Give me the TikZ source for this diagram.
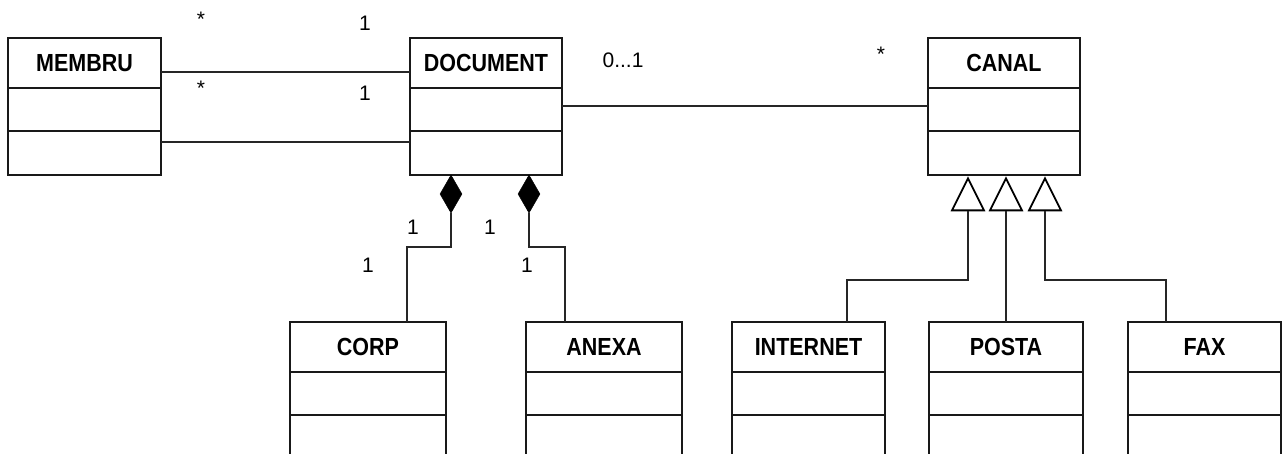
\documentclass[tikz,border=0pt]{standalone}
\usepackage{fontspec}
\setmainfont{Liberation Sans}
\usetikzlibrary{shapes.geometric,calc}
\newcommand{\cname}[1]{\scalebox{1}[1.15]{\bfseries #1}}
\tikzset{
  boxline/.style={line width=2pt, draw=black!90},
  classbox/.style={boxline, rectangle, inner sep=0pt, outer sep=0pt, fill=white},
  classname/.style={font=\fontsize{21.5}{24}\selectfont, inner sep=0pt},
  mult/.style={font=\fontsize{21}{24}\selectfont, inner sep=0pt},
  conn/.style={line width=2pt, draw=black!85},
  compo/.style={diamond, fill=black, draw=black, line width=0.5pt, inner sep=0pt, minimum width=22pt, minimum height=38pt},
  gen/.style={isosceles triangle, isosceles triangle stretches, shape border rotate=90, draw=black, fill=white, line width=1.8pt, inner sep=0pt, minimum width=32pt, minimum height=32pt, anchor=apex}
}
% name, x1, y1, x2, y2, label
\newcommand{\umlclass}[6]{%
  \node[classbox, minimum width={#4-#2}, minimum height={#5-#3}] (#1) at ({(#2+#4)/2},{(#3+#5)/2}) {};
  \node[classname] (#1-name) at ({(#2+#4)/2},{#3+25}) {\cname{#6}};
  \draw[boxline] ($(#1.north west)+(0,50)$) -- ($(#1.north east)+(0,50)$);
  \draw[boxline] ($(#1.north west)+(0,93)$) -- ($(#1.north east)+(0,93)$);
}
\begin{document}
\begin{tikzpicture}[x=1pt,y=-1pt]
\clip (0,0) rectangle (1283,454);
\fill[white] (0,0) rectangle (1283,454);

% classes
\umlclass{membru}{8}{38}{161}{175}{MEMBRU}
\umlclass{document}{410}{38}{562}{175}{DOCUMENT}
\umlclass{canal}{928}{38}{1080}{175}{CANAL}
\umlclass{corp}{290}{322}{446}{480}{CORP}
\umlclass{anexa}{526}{322}{682}{480}{ANEXA}
\umlclass{internet}{732}{322}{885}{480}{INTERNET}
\umlclass{posta}{929}{322}{1083}{480}{POSTA}
\umlclass{fax}{1128}{322}{1281}{480}{FAX}

% associations
\draw[conn] ($(membru.north east)+(0,34)$) -- ($(document.north west)+(0,34)$);
\draw[conn] ($(membru.north east)+(0,104)$) -- ($(document.north west)+(0,104)$);
\draw[conn] ($(document.north east)+(0,68)$) -- ($(canal.north west)+(0,68)$);

% compositions
\node[compo] (d1) at (451,194) {};
\node[compo] (d2) at (529,194) {};
\coordinate (corpin) at (407,322);
\coordinate (anexain) at (565,322);
\draw[conn] (d1.south) -- ++(0,34) -| (corpin);
\draw[conn] (d2.south) -- ++(0,34) -| (anexain);

% generalizations
\node[gen] (t1) at (968,176) {};
\node[gen] (t2) at (1006,176) {};
\node[gen] (t3) at (1045,176) {};
\coordinate (intin) at (847,322);
\coordinate (faxin) at (1166,322);
\draw[conn] (t1.south) -- ++(0,69) -| (intin);
\draw[conn] (t2.south) -- (t2.south |- posta.north);
\draw[conn] (t3.south) -- ++(0,69) -| (faxin);

% multiplicities
\node[mult] (m1) at (201,19) {*};
\node[mult] (m2) at (365,23) {1};
\node[mult] (m3) at (201,88) {*};
\node[mult] (m4) at (365,93) {1};
\node[mult] (m5) at (623,60) {0...1};
\node[mult] (m6) at (881,54) {*};
\node[mult] (m7) at (413,227) {1};
\node[mult] (m8) at (490,227) {1};
\node[mult] (m9) at (368,265) {1};
\node[mult] (m10) at (527,265) {1};
\end{tikzpicture}
\end{document}
